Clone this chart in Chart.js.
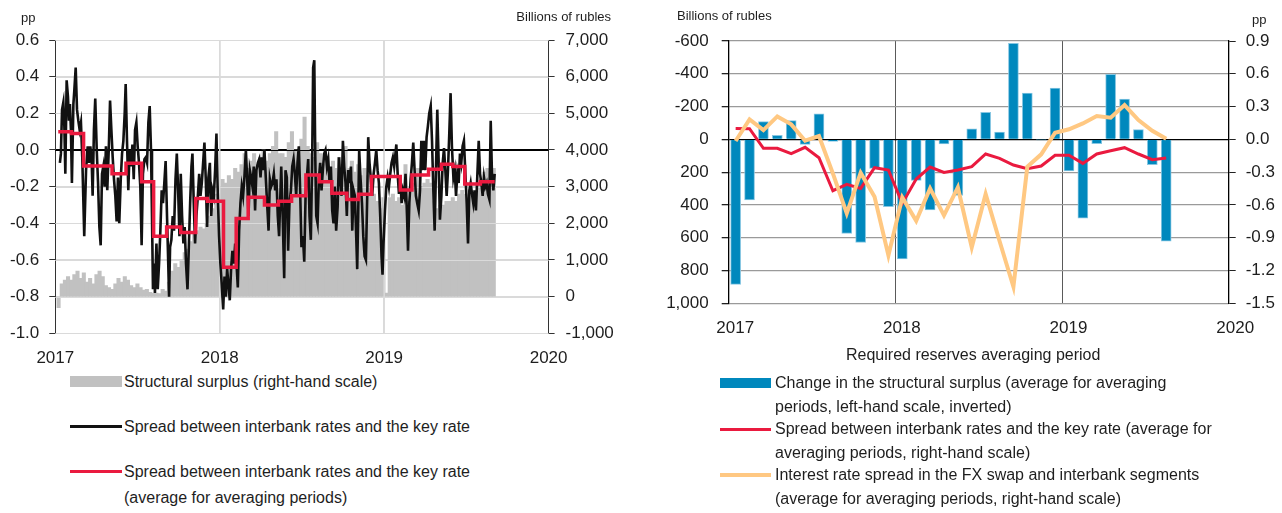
<!DOCTYPE html>
<html>
<head>
<meta charset="utf-8">
<script src="https://cdn.jsdelivr.net/npm/chart.js@4.4.1/dist/chart.umd.min.js"></script>
<style>
  body { margin: 0; width: 1282px; height: 513px; background: #fff; overflow: hidden; position: relative;
         font-family: "Liberation Sans", Arial, sans-serif; color: #1e1e1e; }
  canvas { position: absolute; top: 0; }
  #cl { left: 0; }
  #cr { left: 640px; }
  .t { position: absolute; white-space: nowrap; font-size: 16px; line-height: 24px; }
  .u { position: absolute; white-space: nowrap; font-size: 13px; line-height: 16px; }
  .sw { position: absolute; }
</style>
</head>
<body>
<canvas id="cl" width="640" height="370"></canvas>
<canvas id="cr" width="642" height="370"></canvas>

<div class="u" style="left:21px;top:10px">pp</div>
<div class="u" style="right:671px;top:9px">Billions of rubles</div>
<div class="u" style="left:677px;top:8px">Billions of rubles</div>
<div class="u" style="left:1252px;top:12px">pp</div>
<div class="t" style="left:846px;top:343px">Required reserves averaging period</div>

<div class="sw" style="left:70px;top:376px;width:52px;height:11px;background:#c1c1c1"></div>
<div class="t" style="left:124px;top:370px">Structural surplus (right-hand scale)</div>
<div class="sw" style="left:70px;top:425px;width:52px;height:3px;background:#111"></div>
<div class="t" style="left:124px;top:415px">Spread between interbank rates and the key rate</div>
<div class="sw" style="left:70px;top:470px;width:52px;height:3px;background:#ea1a3f"></div>
<div class="t" style="left:124px;top:459px;line-height:26px">Spread between interbank rates and the key rate<br>(average for averaging periods)</div>

<div class="sw" style="left:720px;top:378px;width:51px;height:10px;background:#0088bd"></div>
<div class="t" style="left:775px;top:371px">Change in the structural surplus (average for averaging<br>periods, left-hand scale, inverted)</div>
<div class="sw" style="left:720px;top:428px;width:51px;height:3px;background:#ea1a3f"></div>
<div class="t" style="left:775px;top:417px">Spread between interbank rates and the key rate (average for<br>averaging periods, right-hand scale)</div>
<div class="sw" style="left:720px;top:473px;width:51px;height:4px;background:#ffc882"></div>
<div class="t" style="left:775px;top:463px">Interest rate spread in the FX swap and interbank segments<br>(average for averaging periods, right-hand scale)</div>

<script>
// ---- left panel: daily spread (years since 1 Jan 2017, pp) ----
const spreadT = [
  0.028,0.034,0.041,0.049,0.055,0.061,0.069,0.077,0.083,0.089,
  0.095,0.101,0.110,0.116,0.124,0.132,0.140,0.148,0.156,0.164,
  0.176,0.187,0.197,0.205,0.213,0.221,0.227,0.235,0.243,0.252,
  0.260,0.268,0.276,0.284,0.292,0.300,0.308,0.316,0.325,0.333,
  0.341,0.349,0.357,0.365,0.373,0.381,0.389,0.398,0.406,0.414,
  0.422,0.428,0.436,0.444,0.452,0.460,0.469,0.477,0.485,0.493,
  0.501,0.509,0.517,0.525,0.533,0.542,0.550,0.558,0.566,0.574,
  0.582,0.588,0.594,0.600,0.606,0.615,0.623,0.631,0.639,0.647,
  0.655,0.663,0.671,0.680,
  0.692,0.698,0.706,0.714,0.722,0.731,0.739,0.747,0.755,0.763,
  0.771,0.779,0.787,0.795,0.804,0.812,0.820,0.828,0.834,0.842,
  0.850,0.858,0.867,0.875,0.883,0.891,0.899,0.907,0.915,0.923,
  0.931,0.940,0.948,0.956,0.964,0.972,0.980,0.988,0.996,1.004,
  1.012,1.021,1.029,1.037,1.045,1.053,1.061,1.069,1.077,1.086,
  1.094,1.102,1.110,1.118,1.126,1.134,1.142,1.150,1.159,1.167,
  1.175,1.183,1.191,1.199,1.207,1.215,1.223,1.232,1.240,1.248,
  1.256,1.264,1.272,1.280,1.288,1.297,1.305,1.313,1.321,1.329,
  1.337,1.345,1.353,1.361,
  1.374,1.384,1.392,1.400,1.408,1.416,1.424,1.433,1.441,1.449,
  1.457,1.465,1.473,1.481,1.489,1.497,1.506,1.514,1.522,1.530,
  1.538,1.546,1.554,1.562,1.568,1.575,1.581,1.587,1.595,1.603,
  1.611,1.619,1.627,1.635,1.643,1.652,1.660,1.668,1.676,1.684,
  1.692,1.700,1.708,1.717,1.725,1.733,1.741,1.749,1.757,1.765,
  1.773,1.781,1.790,1.798,1.806,1.814,1.822,1.830,1.836,1.842,
  1.848,1.856,1.865,1.873,1.881,1.889,1.897,1.903,1.911,1.919,
  1.927,1.936,1.944,1.952,1.960,1.968,1.976,1.984,1.990,1.996,
  2.005,2.013,2.021,2.029,2.037,2.045,2.053,2.061,
  2.074,2.082,2.090,2.098,2.106,2.114,2.122,2.130,2.139,2.145,
  2.153,2.161,2.169,2.177,2.185,2.193,2.201,2.210,2.218,2.226,
  2.234,2.242,2.250,2.258,2.266,2.274,2.283,2.291,2.299,2.307,
  2.315,2.323,2.331,2.339,2.348,2.356,2.364,2.372,2.380,2.388,
  2.396,2.404,2.412,2.421,2.429,2.437,2.445,2.453,2.461,2.469,
  2.477,2.485,2.494,2.502,2.510,2.518,2.526,2.534,2.542,2.550,
  2.558,2.567,2.575,2.583,2.591,2.599,2.607,2.615,2.623,2.631,
  2.640,2.648,2.656,2.664,2.672
];
const spreadV = [
  -0.07,-0.02,0.22,0.26,0.13,-0.13,0.38,0.29,0.16,0.25,
  0.11,-0.18,0.25,0.33,0.45,0.22,0.16,0.11,0.15,-0.04,
  -0.47,-0.11,0.02,-0.07,0.02,-0.05,-0.25,0.11,0.28,0.0,
  -0.18,-0.42,-0.52,-0.13,-0.09,-0.2,0.02,-0.22,0.0,0.27,
  0.11,-0.04,-0.16,-0.25,-0.39,-0.15,-0.4,-0.16,-0.02,0.05,
  0.2,0.36,0.05,-0.22,0.0,-0.09,0.03,-0.16,0.11,0.15,
  0.02,-0.07,-0.2,-0.52,-0.13,-0.05,-0.04,-0.07,0.15,0.24,
  0.0,-0.36,-0.76,-0.62,-0.78,-0.51,-0.76,-0.62,-0.44,-0.22,
  -0.29,-0.18,-0.06,-0.38,
  -0.8,-0.53,-0.49,-0.36,-0.44,-0.16,-0.02,-0.22,-0.47,-0.13,
  -0.36,-0.51,-0.42,-0.62,-0.76,-0.53,-0.29,-0.09,-0.02,-0.29,
  -0.51,-0.36,-0.25,-0.13,-0.25,-0.18,-0.07,0.04,-0.16,-0.42,
  -0.15,-0.07,-0.36,-0.22,-0.25,-0.11,0.09,-0.24,-0.47,-0.62,
  -0.73,-0.87,-0.69,-0.8,-0.65,-0.73,-0.82,-0.65,-0.55,-0.62,
  -0.51,-0.62,-0.75,-0.44,-0.29,-0.2,-0.25,-0.15,0.0,-0.16,
  -0.36,-0.11,-0.15,-0.2,-0.09,-0.33,-0.11,-0.07,-0.05,-0.15,
  -0.04,-0.11,0.0,-0.15,-0.29,-0.44,-0.16,-0.2,-0.18,-0.13,
  -0.22,-0.16,-0.36,-0.47,
  -0.09,-0.4,-0.7,-0.11,-0.15,-0.55,-0.29,-0.22,-0.09,-0.05,
  -0.13,-0.25,-0.07,0.02,-0.22,-0.53,-0.47,-0.61,-0.25,-0.15,
  -0.05,-0.36,-0.49,-0.07,0.45,0.49,-0.04,-0.36,-0.4,-0.16,
  -0.07,-0.22,-0.11,-0.02,0.0,-0.09,-0.05,-0.18,-0.09,-0.33,
  -0.4,-0.2,-0.44,-0.31,-0.04,-0.15,-0.25,0.05,-0.09,-0.18,
  -0.36,-0.11,-0.18,-0.09,-0.44,-0.22,-0.25,-0.47,-0.65,-0.36,
  0.0,-0.15,-0.29,-0.47,-0.58,-0.6,-0.25,0.07,-0.07,-0.16,
  -0.25,-0.13,-0.07,0.0,-0.11,-0.18,-0.36,-0.58,-0.68,-0.51,
  -0.33,-0.2,-0.15,-0.2,-0.13,-0.07,-0.04,-0.09,
  0.03,-0.13,-0.24,-0.15,-0.29,-0.22,-0.25,-0.13,-0.36,-0.55,
  -0.29,-0.16,-0.07,0.04,-0.11,-0.25,-0.29,-0.33,-0.22,0.05,
  -0.11,0.05,-0.11,0.07,0.13,0.2,0.24,0.05,-0.22,-0.44,
  -0.11,0.22,-0.05,-0.38,-0.25,-0.07,0.01,-0.11,-0.25,-0.11,
  0.09,0.31,0.02,-0.15,-0.11,-0.25,-0.13,-0.18,-0.02,-0.07,
  0.02,0.05,-0.13,-0.29,-0.51,-0.22,-0.18,-0.24,-0.29,-0.22,
  -0.33,-0.13,0.05,-0.13,-0.18,-0.25,-0.15,-0.2,-0.18,-0.24,
  -0.27,0.16,-0.15,-0.22,-0.13
];

// averaging-period mean of the spread: period start (years since 2017) and value
const periodStartT = [0.018,0.099,0.172,0.345,0.430,0.525,0.598,0.677,0.763,0.854,0.925,
  1.023,1.100,1.173,1.272,1.357,1.437,1.524,1.605,1.682,1.773,1.844,1.923,
  2.098,2.169,2.270,2.348,2.417,2.490,2.585,2.672];
const periodSpreadV = [0.10,0.09,-0.087,-0.13,-0.073,-0.173,-0.47,-0.42,-0.45,-0.264,-0.28,
  -0.64,-0.374,-0.258,-0.30,-0.28,-0.25,-0.136,-0.173,-0.236,-0.27,-0.242,-0.145,
  -0.218,-0.136,-0.105,-0.078,-0.09,-0.185,-0.173,-0.173];

// structural surplus, bn rubles, one value per week from 9 Jan 2017
const surplusStart = 2017.02;
const surplusWeekly = [
  -300,350,450,550,450,600,700,500,650,400,
  500,350,600,700,550,300,250,200,350,500,
  400,550,450,300,250,350,250,180,200,120,
  100,100,80,200,150,400,700,900,800,1000,
  1200,1300,1500,1700,1800,1900,1850,2000,2200,2400,
  2800,3000,3200,3100,3300,3200,3500,3400,3600,3900,
  3500,3700,3900,3600,3800,4000,3700,3900,4100,4500,
  3900,3900,3800,4200,4500,4000,3800,4300,4900,4100,
  3900,3800,4200,3900,3600,3800,3500,3700,3500,3800,
  3600,4100,3500,3700,3400,3600,3300,3500,3300,3000,
  2800,2600,2400,2700,100,2700,2800,2600,2700,2500,
  3600,2600,2900,3100,3500,3000,3100,3200,3100,2600,
  2400,2500,2500,2600,2600,2700,2600,2800,2900,2800,
  2700,2900,2800,3100,3200,3400,3500,3300,3500
];

// ---- right panel: monthly averaging periods ----
const periods = [
  '2017-01','2017-02','2017-03','2017-04','2017-05','2017-06','2017-07','2017-08',
  '2017-09','2017-10','2017-11','2017-12','2018-01','2018-02','2018-03','2018-04',
  '2018-05','2018-06','2018-07','2018-08','2018-09','2018-10','2018-11','2018-12',
  '2019-01','2019-02','2019-03','2019-04','2019-05','2019-06','2019-07','2019-08'
];
const surplusChange = [885,370,-108,-24,-114,31,-155,12,574,629,177,411,
  730,250,431,28,342,-65,-165,-45,-586,-283,3,-313,193,480,26,-397,-246,-59,155,621];
const spreadAvg = [0.10,0.098,-0.082,-0.082,-0.131,-0.073,-0.168,-0.47,-0.412,-0.449,-0.259,-0.281,
  -0.586,-0.363,-0.253,-0.302,-0.281,-0.25,-0.134,-0.174,-0.235,-0.269,-0.244,-0.146,
  -0.146,-0.22,-0.134,-0.104,-0.076,-0.134,-0.186,-0.171];
const fxSwapSpread = [-0.015,0.183,0.085,0.21,0.137,-0.012,0.03,-0.311,-0.678,-0.305,-0.525,-1.062,
  -0.531,-0.745,-0.449,-0.696,-0.44,-0.989,-0.5,-0.93,-1.349,-0.25,-0.137,0.061,
  0.092,0.146,0.214,0.198,0.314,0.177,0.079,0.006];

const yearTicks = [2017, 2018, 2019, 2020];

// ---- helpers ----
const tickFont = { family: '"Liberation Sans", Arial, sans-serif', size: 17 };
const ink = '#1e1e1e';
const clear = 'rgba(0,0,0,0)';
const fmt1 = v => (Math.abs(v) < 1e-9 ? 0 : v).toFixed(1);
const fmtK = v => Math.round(v).toLocaleString('en-US');
const isInnerYear = c => c.tick && (c.tick.value === 2018 || c.tick.value === 2019);
const monthX = p => { const [y, m] = p.split('-').map(Number); return y + (m - 0.5) / 12; };

// light grid lines sit on top of the grey surplus bars, under the spread lines
const gridOverBars = {
  id: 'gridOverBars',
  afterDatasetDraw(chart, args) {
    if (args.index !== 0) return;
    const { ctx, chartArea: a, scales: { x, y } } = chart;
    ctx.save();
    ctx.lineWidth = 1;
    y.ticks.forEach(t => {
      const py = Math.round(y.getPixelForValue(t.value)) + 0.5;
      ctx.strokeStyle = Math.abs(t.value) < 1e-9 ? '#000' : '#dadada';
      ctx.beginPath(); ctx.moveTo(a.left, py); ctx.lineTo(a.right, py); ctx.stroke();
    });
    ctx.strokeStyle = '#dadada';
    ctx.lineWidth = 1.5;
    [2018, 2019].forEach(v => {
      const px = x.getPixelForValue(v);
      ctx.beginPath(); ctx.moveTo(px, a.top); ctx.lineTo(px, a.bottom); ctx.stroke();
    });
    ctx.restore();
  }
};

Chart.defaults.animation = false;

new Chart(document.getElementById('cl'), {
  type: 'line',
  data: {
    datasets: [
      {
        type: 'bar', label: 'Structural surplus (right-hand scale)', yAxisID: 'y2',
        data: surplusWeekly.map((v, i) => ({ x: surplusStart + i * 7 / 365, y: v })),
        backgroundColor: '#c1c1c1', barThickness: 3.4, order: 3
      },
      {
        label: 'Spread between interbank rates and the key rate', yAxisID: 'y',
        data: spreadT.map((t, i) => ({ x: 2017 + t, y: spreadV[i] })),
        borderColor: '#111', borderWidth: 2.6, pointRadius: 0, tension: 0, order: 2
      },
      {
        label: 'Spread (average for averaging periods)', yAxisID: 'y',
        data: periodStartT.map((t, i) => ({ x: 2017 + t, y: periodSpreadV[i] })),
        borderColor: '#ea1a3f', borderWidth: 3.5, pointRadius: 0, stepped: true, order: 1
      }
    ]
  },
  options: {
    responsive: false, devicePixelRatio: 1,
    layout: { padding: { top: 40, left: 0, right: 0, bottom: 0 } },
    plugins: { legend: { display: false }, tooltip: { enabled: false } },
    scales: {
      x: {
        type: 'linear', min: 2017, max: 2020, offset: false,
        afterBuildTicks: s => { s.ticks = yearTicks.map(v => ({ value: v })); },
        afterFit: s => { s.height = 36.7; },
        grid: { offset: false, color: c => isInnerYear(c) ? '#dadada' : clear, lineWidth: 1.5, drawTicks: false },
        border: { display: false },
        ticks: { font: tickFont, color: ink, padding: 14.5, maxRotation: 0, autoSkip: false, callback: v => String(v) }
      },
      y: {
        position: 'left', min: -1, max: 0.6,
        afterFit: s => { s.width = 55.3; },
        grid: { color: c => Math.abs(c.tick.value) < 1e-9 ? '#000' : '#dadada', lineWidth: 1, tickColor: '#333', tickLength: 6 },
        border: { display: true, color: '#333', width: 1 },
        ticks: { stepSize: 0.2, font: tickFont, color: ink, padding: 10, callback: fmt1 }
      },
      y2: {
        position: 'right', min: -1000, max: 7000,
        afterFit: s => { s.width = 91.4; },
        grid: { drawOnChartArea: false, tickColor: '#333', tickLength: 6 },
        border: { display: true, color: '#333', width: 1 },
        ticks: { stepSize: 1000, font: tickFont, color: ink, padding: 11, callback: fmtK }
      }
    }
  },
  plugins: [gridOverBars]
});

new Chart(document.getElementById('cr'), {
  type: 'line',
  data: {
    datasets: [
      {
        type: 'bar', label: 'Change in the structural surplus', yAxisID: 'y',
        data: periods.map((p, i) => ({ x: monthX(p), y: surplusChange[i] })),
        backgroundColor: '#0088bd', borderColor: '#86c6e2', borderWidth: 1,
        barThickness: 10, order: 3
      },
      {
        label: 'Spread between interbank rates and the key rate', yAxisID: 'y2',
        data: periods.map((p, i) => ({ x: monthX(p), y: spreadAvg[i] })),
        borderColor: '#ea1a3f', borderWidth: 3, pointRadius: 0, tension: 0, order: 2
      },
      {
        label: 'Interest rate spread in the FX swap and interbank segments', yAxisID: 'y2',
        data: periods.map((p, i) => ({ x: monthX(p), y: fxSwapSpread[i] })),
        borderColor: '#ffc882', borderWidth: 4, pointRadius: 0, tension: 0, order: 1
      }
    ]
  },
  options: {
    responsive: false, devicePixelRatio: 1,
    layout: { padding: { top: 41, left: 0, right: 0, bottom: 0 } },
    plugins: { legend: { display: false }, tooltip: { enabled: false } },
    scales: {
      x: {
        type: 'linear', min: 2017, max: 2020, offset: false,
        afterBuildTicks: s => { s.ticks = yearTicks.map(v => ({ value: v })); },
        afterFit: s => { s.height = 66.7; },
        grid: { offset: false, color: c => isInnerYear(c) ? '#5a5a5a' : clear, lineWidth: 1, drawTicks: false },
        border: { display: false },
        ticks: { font: tickFont, color: ink, padding: 15, labelOffset: 6.5, maxRotation: 0, autoSkip: false, callback: v => String(v) }
      },
      y: {
        position: 'left', reverse: true, min: -600, max: 1000,
        afterFit: s => { s.width = 88.7; },
        grid: { color: c => Math.abs(c.tick.value) < 1e-9 ? '#000' : '#9a9a9a', lineWidth: 1.3, tickColor: '#222', tickLength: 7 },
        border: { display: true, color: '#000', width: 1.3 },
        ticks: { stepSize: 200, font: tickFont, color: ink, padding: 13, callback: fmtK }
      },
      y2: {
        position: 'right', min: -1.5, max: 0.9,
        afterFit: s => { s.width = 53.3; },
        grid: { drawOnChartArea: false, tickColor: '#222', tickLength: 7 },
        border: { display: true, color: '#000', width: 1.3 },
        ticks: { stepSize: 0.3, font: tickFont, color: ink, padding: 10, callback: fmt1 }
      }
    }
  }
});
</script>
</body>
</html>
